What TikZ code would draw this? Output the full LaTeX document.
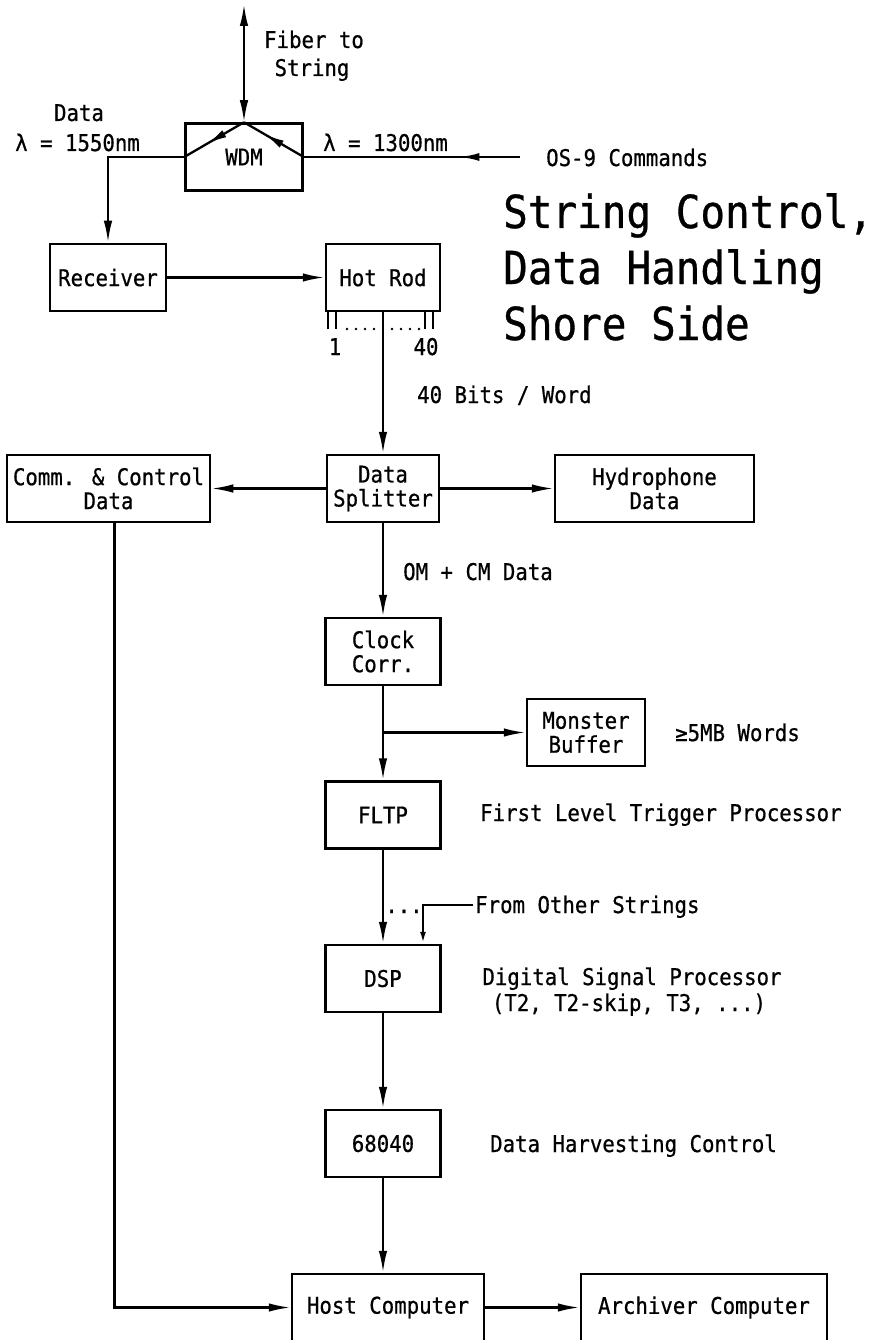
\documentclass[tikz,border=0pt]{standalone}
\usepackage{fontspec}
\setmainfont{DejaVu Sans Mono}[FakeStretch=0.9,FakeBold=0.7]
\usetikzlibrary{arrows.meta,decorations.markings,calc}

\newcommand\labfont{\fontsize{23pt}{24pt}\selectfont}
\newcommand\headfont{\fontsize{45.5pt}{56pt}\selectfont}

\begin{document}
\begin{tikzpicture}[x=1pt,y=-1pt,
  box/.style={draw, line width=2.5pt, minimum height=67pt, inner sep=0pt, align=center, font=\labfont},
  wire/.style={line width=2.3pt},
  tip/.style={-{Latex[length=22pt,width=8.5pt]}},
  lbl/.style={inner sep=0pt, anchor=base west, font=\labfont},
  clbl/.style={inner sep=0pt, anchor=base, font=\labfont},
  ttl/.style={inner sep=0pt, anchor=base west, font=\headfont},
  midtip/.style={postaction=decorate, decoration={markings,
      mark=at position #1 with {\arrow{Latex[length=20pt,width=8pt]}}}},
]
\useasboundingbox (0,0) rectangle (879,1340);

% ---- blocks ----
\node[box, minimum width=117pt] (wdm)    at (244,157)     {WDM};
\node[box, minimum width=116pt] (rx)     at (108,277.5)   {Receiver};
\node[box, minimum width=114pt] (hotrod) at (383,277.5)   {Hot Rod};
\node[box, minimum width=112pt] (split)  at (383,488.5)   {Data\\Splitter};
\node[box, minimum width=203pt] (comm)   at (108.5,488.5) {Comm. \& Control\\Data};
\node[box, minimum width=199pt] (hyd)    at (654.5,488.5) {Hydrophone\\Data};
\node[box, minimum width=115pt] (clock)  at (383,651.5)   {Clock\\Corr.};
\node[box, minimum width=118pt] (buf)    at (586,732.5)   {Monster\\Buffer};
\node[box, minimum width=115pt] (fltp)   at (383,815)     {FLTP};
\node[box, minimum width=115pt] (dsp)    at (383,978.5)   {DSP};
\node[box, minimum width=115pt] (cpu)    at (383,1143.5)  {68040};
\node[box, minimum width=192pt] (host)   at (388,1307.5)  {Host Computer};
\node[box, minimum width=246pt] (arch)   at (704,1307.5)  {Archiver Computer};

% ---- optical side ----
\coordinate (ftop) at (244,4);
\coordinate (osin) at (520,157);
\draw[wire, {Latex[length=22pt,width=8.5pt]}-{Latex[length=22pt,width=8.5pt]}] (ftop) -- (wdm.north);
\draw[wire, midtip=0.62] (wdm.north) -- (wdm.west);
\draw[wire, midtip=0.66] (wdm.east) -- (wdm.north);
\draw[wire, tip] (wdm.west) -| (rx.north);
\draw[wire, midtip=0.28] (osin) -- (wdm.east);
\draw[wire, tip] (rx.east) -- (hotrod.west);

% ---- Hot Rod output pins ----
\foreach \px in {328,336,425,433}
  \draw[line width=1.8pt] (\px,311) -- (\px,329);
\foreach \px in {347,356,365,374,392,401,410,419}
  \fill (\px,329) circle (1.4pt);

% ---- data path ----
\draw[wire, tip] (hotrod.south) -- (split.north);
\draw[wire, tip] (split.west) -- (comm.east);
\draw[wire, tip] (split.east) -- (hyd.west);
\draw[wire, tip] (split.south) -- (clock.north);
\draw[wire, tip] (clock.south) -- (fltp.north);
\coordinate (br) at (clock.south |- buf.west);
\draw[wire, tip] (br) -- (buf.west);
\draw[wire, tip] (fltp.south) -- (dsp.north);
\coordinate (other) at (473,905);
\draw[wire, -{Latex[length=12pt,width=6pt]}] (other) -| ([xshift=40pt]dsp.north);
\draw[wire, tip] (dsp.south) -- (cpu.north);
\draw[wire, tip] (cpu.south) -- (cpu.south |- host.north);
\draw[wire, tip] ([xshift=6pt]comm.south) |- (host.west);
\draw[wire, tip] (host.east) -- (arch.west);

% ---- labels ----
\node[clbl] (lfib1) at (314,48)  {Fiber to};
\node[clbl] (lfib2) at (312,76)  {String};
\node[clbl] (ldat1) at (79,121)  {Data};
\node[lbl]  (ldat2) at (15,151)  {λ = 1550nm};
\node[lbl]  (lcmd1) at (323,151) {λ = 1300nm};
\node[lbl]  (lcmd2) at (546,166) {OS-9 Commands};
\node[clbl] (lpin1) at (335,355) {1};
\node[clbl] (lpin2) at (426,355) {40};
\node[lbl]  (lbits) at (417,403) {40 Bits / Word};
\node[lbl]  (lomcm) at (403,580) {OM + CM Data};
\node[lbl]  (lmb)   at (675,741) {≥5MB Words};
\node[lbl]  (lfltp) at (480,821) {First Level Trigger Processor};
\node[clbl] (ldots) at (404,913) {...};
\node[lbl]  (lothr) at (475,913) {From Other Strings};
\node[clbl] (ldsp1) at (632,985) {Digital Signal Processor};
\node[clbl] (ldsp2) at (629,1011) {(T2, T2-skip, T3, ...)};
\node[lbl]  (lharv) at (490,1152) {Data Harvesting Control};

% ---- heading ----
\node[ttl] (t1) at (503,228) {String Control,};
\node[ttl] (t2) at (503,284) {Data Handling};
\node[ttl] (t3) at (503,340) {Shore Side};
\end{tikzpicture}
\end{document}
